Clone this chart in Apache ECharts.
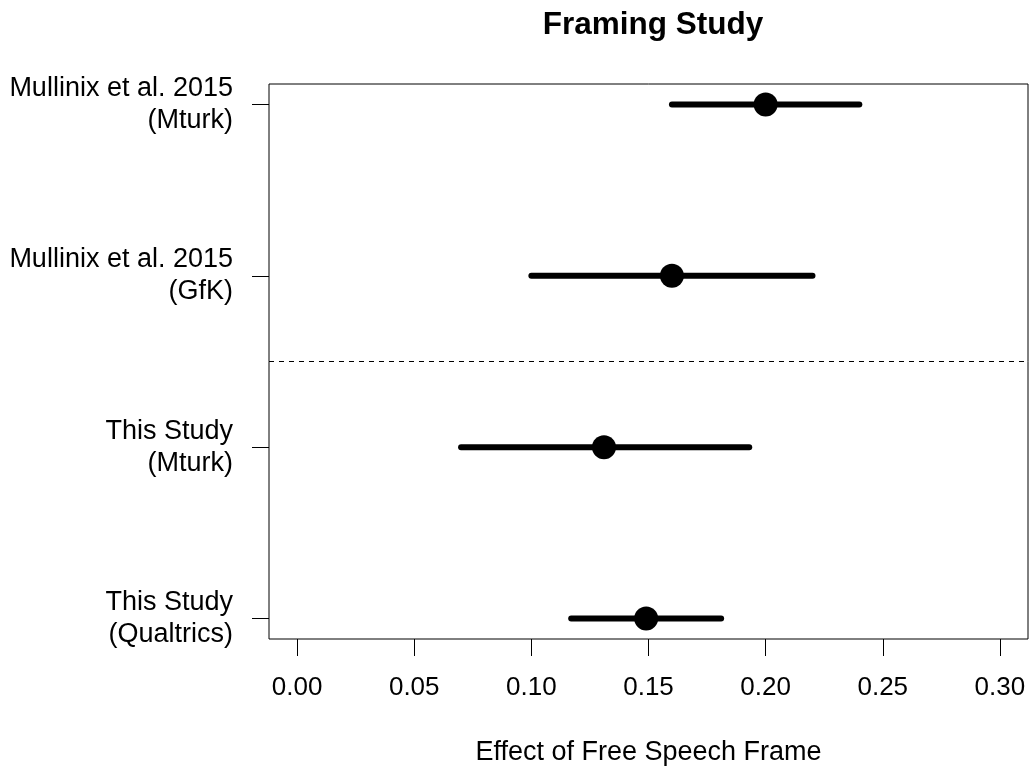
<!DOCTYPE html>
<html lang="en">
<head>
    <meta charset="UTF-8">
    <title>Framing Study</title>
    <script src="https://cdn.jsdelivr.net/npm/echarts@6/dist/echarts.min.js"></script>
    <style>
        html, body { margin: 0; padding: 0; background: #fff; }
    </style>
</head>
<body>

    <div id="main" style="width: 1030px;height:770px;"></div>

    <script type="text/javascript">
        // studies, bottom to top (y = 1..4)
        var studies = ['This Study\n(Qualtrics)', 'This Study\n(Mturk)', 'Mullinix et al. 2015\n(GfK)', 'Mullinix et al. 2015\n(Mturk)'];
        var rowPos = [1, 2, 3, 4];
        var estimate = [0.149, 0.131, 0.160, 0.200];
        var lower = [0.117, 0.070, 0.100, 0.160];
        var upper = [0.181, 0.193, 0.220, 0.240];
        var xTicks = [0, 0.05, 0.10, 0.15, 0.20, 0.25, 0.30];
        var dividerAt = 2.5;

        var font = 'Liberation Sans, Arial, Helvetica, sans-serif';

        var myChart = echarts.init(document.getElementById('main'));

        var intervals = rowPos.map(function (y, i) { return [lower[i], upper[i], y]; });
        var points = rowPos.map(function (y, i) { return [estimate[i], y]; });

        var option = {
            backgroundColor: '#fff',
            animation: false,
            title: {
                text: 'Framing Study',
                left: 648, top: 4,
                textAlign: 'center',
                textStyle: { fontFamily: font, fontSize: 31.5, fontWeight: 'bold', color: '#000' }
            },
            grid: {
                left: 269, right: 2, top: 84, bottom: 131,
                show: true, borderColor: '#000', borderWidth: 1,
                outerBoundsMode: 'none'
            },
            xAxis: {
                type: 'value',
                min: -0.012, max: 0.312,
                name: 'Effect of Free Speech Frame',
                nameLocation: 'middle',
                nameGap: 100,
                nameTextStyle: { fontFamily: font, fontSize: 27, color: '#000' },
                axisLine: { show: false, onZero: false },
                splitLine: { show: false },
                axisTick: { show: true, length: 17, customValues: xTicks, lineStyle: { color: '#000' } },
                axisLabel: {
                    customValues: xTicks, margin: 36,
                    fontFamily: font, fontSize: 26, color: '#000',
                    formatter: function (v) { return v.toFixed(2); }
                }
            },
            yAxis: {
                type: 'value',
                min: 0.88, max: 4.12,
                axisLine: { show: false, onZero: false },
                splitLine: { show: false },
                axisTick: { show: true, length: 17, customValues: rowPos, lineStyle: { color: '#000' } },
                axisLabel: {
                    customValues: rowPos, margin: 36,
                    fontFamily: font, fontSize: 27, color: '#000',
                    lineHeight: 32, align: 'right',
                    padding: [4, 0, 0, 0],
                    formatter: function (v) { return studies[Math.round(v) - 1]; }
                }
            },
            series: [
                {
                    type: 'custom',
                    data: intervals,
                    renderItem: function (params, api) {
                        var a = api.coord([api.value(0), api.value(2)]);
                        var b = api.coord([api.value(1), api.value(2)]);
                        return {
                            type: 'line',
                            shape: { x1: a[0], y1: a[1], x2: b[0], y2: b[1] },
                            style: { stroke: '#000', lineWidth: 6, lineCap: 'round' }
                        };
                    },
                    markLine: {
                        silent: true,
                        symbol: 'none',
                        label: { show: false },
                        lineStyle: { color: '#000', width: 1, type: [5, 5] },
                        data: [{ yAxis: dividerAt }]
                    }
                },
                {
                    type: 'scatter',
                    data: points,
                    symbol: 'circle',
                    symbolSize: 24,
                    itemStyle: { color: '#000', opacity: 1 }
                }
            ]
        };

        myChart.setOption(option);
    </script>
</body>
</html>
